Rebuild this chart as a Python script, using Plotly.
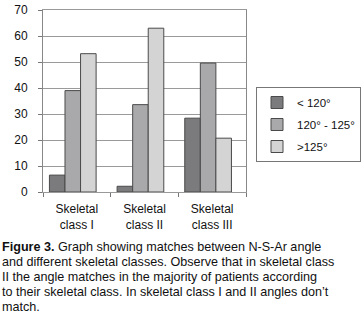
import plotly.graph_objects as go

categories = ["Skeletal<br>class I", "Skeletal<br>class II", "Skeletal<br>class III"]
series_names = ["< 120°", "120° - 125°", ">125°"]
lt120 = [6.5, 2.2, 28.4]
mid = [39.0, 33.6, 49.6]
gt125 = [53.2, 63.0, 20.7]
colors = ["#7b7b7d", "#a9a9ab", "#d4d4d5"]
offsets = [-0.405, -0.175, 0.055]
bar_width = 0.23

caption_lines = [
    "<b>Figure 3.</b> Graph showing matches between N-S-Ar angle",
    "and different skeletal classes. Observe that in skeletal class",
    "II the angle matches in the majority of patients according",
    "to their skeletal class. In skeletal class I and II angles don’t",
    "match.",
]

fig = go.Figure()
for i, (name, vals) in enumerate(zip(series_names, [lt120, mid, gt125])):
    fig.add_trace(go.Bar(
        x=categories, y=vals, name=name,
        marker=dict(color=colors[i], line=dict(color="#4a4a4a", width=1)),
        offset=offsets[i], width=bar_width,
        legendgroup=f"g{i}",
    ))

annotations = []
for k, line in enumerate(caption_lines):
    ypix = 247 + 15 * k
    annotations.append(dict(
        xref="paper", yref="paper", x=(0 - 43) / 203, y=(192 - ypix) / 182,
        xanchor="left", yanchor="middle", align="left", showarrow=False,
        text=line, font=dict(size=12.6, color="#111"),
    ))

fig.update_layout(
    width=361, height=324,
    margin=dict(l=43, r=115, t=10, b=132, autoexpand=False),
    paper_bgcolor="white", plot_bgcolor="white",
    font=dict(family="Liberation Sans, Arial, sans-serif", size=12, color="#111"),
    barmode="group",
    showlegend=True,
    legend=dict(
        xref="container", yref="container",
        x=256 / 361, y=1 - 87 / 324, xanchor="left", yanchor="top",
        bordercolor="#777", borderwidth=1, bgcolor="white",
        font=dict(size=11.5), tracegroupgap=3,
        itemwidth=30,
    ),
    xaxis=dict(
        type="category", tickson="boundaries", ticks="outside", ticklen=4,
        tickcolor="#777", showline=True, linecolor="#999", mirror=True,
        showgrid=False, tickfont=dict(size=12), ticklabelstandoff=6,
        automargin=False,
    ),
    yaxis=dict(
        range=[0, 70], dtick=10, ticks="outside", ticklen=4, tickcolor="#777",
        showline=True, linecolor="#888", mirror=True,
        showgrid=True, gridcolor="#9a9a9a", gridwidth=1,
        zeroline=False, tickfont=dict(size=12), ticklabelstandoff=8,
        automargin=False,
    ),
    annotations=annotations,
)

fig.write_html("out.html", post_script="document.body.style.margin='0';",
               config={"displayModeBar": False})
